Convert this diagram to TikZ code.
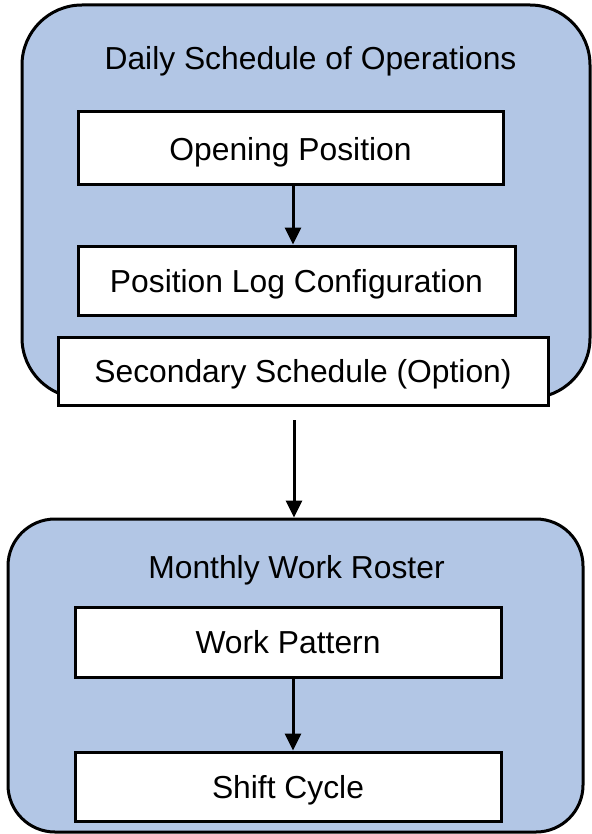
\documentclass[tikz,border=0pt]{standalone}
\usepackage{fontspec}
\setmainfont{Liberation Sans}
\usepackage{xcolor}
\usetikzlibrary{arrows.meta}

\definecolor{groupblue}{HTML}{B2C6E5}

\begin{document}
\begin{tikzpicture}[x=1pt,y=1pt,
    every node/.append style={inner sep=0pt,text depth=0pt,font=\fontsize{31.8}{36}\selectfont},
    group/.style={draw=black,fill=groupblue,line width=3pt},
    stepbox/.style={draw=black,fill=white,line width=3pt},
    flow/.style={line width=3pt,-{Triangle[width=16pt,length=17pt]}}]
					\useasboundingbox (0,0) rectangle (591,-834);
					% daily schedule group
					\node [group,rounded corners=60pt,minimum width=568pt,minimum height=393pt] (daily) at (306,-201.5) {};
					\node (dailytitle) at (310.5,-58) {Daily Schedule of Operations};
					\node [stepbox,minimum width=425pt,minimum height=73pt] (opening) at (290.5,-148.5) {Opening Position};
					\node [stepbox,minimum width=437pt,minimum height=69pt] (poslog) at (296.5,-280.5) {Position Log Configuration};
					\node [stepbox,minimum width=490pt,minimum height=68pt] (secondary) at (303,-371) {Secondary Schedule (Option)};
					% monthly roster group
					\node [group,rounded corners=47pt,minimum width=575pt,minimum height=313pt] (monthly) at (295.5,-675.5) {};
					\node (monthlytitle) at (296.5,-567) {Monthly Work Roster};
					\node [stepbox,minimum width=426pt,minimum height=70pt] (pattern) at (288,-642) {Work Pattern};
					\node [stepbox,minimum width=426pt,minimum height=69pt] (cycle) at (288,-786.5) {Shift Cycle};
					% connectors
					\coordinate (upperx) at (293,0);
					\coordinate (linkstart) at (294,-420);
					\draw [flow] (opening.south -| upperx) -- (poslog.north -| upperx);
					\draw [flow] (linkstart) -- (monthly.north -| linkstart);
					\draw [flow] (pattern.south -| upperx) -- (cycle.north -| upperx);
				\end{tikzpicture}
\end{document}
